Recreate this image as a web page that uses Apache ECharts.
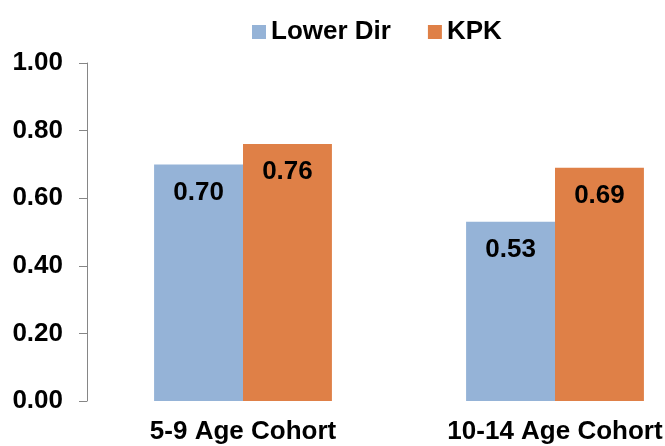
<!DOCTYPE html>
<html>
<head>
<meta charset="utf-8">
<script src="https://cdn.jsdelivr.net/npm/echarts@6/dist/echarts.min.js"></script>
<style>
html, body { margin: 0; padding: 0; background: #fff; }
#chart { width: 665px; height: 446px; }
</style>
</head>
<body>
<div id="chart"></div>
<script>
var categories = ['5-9 Age Cohort', '10-14 Age Cohort'];
var seriesNames = ['Lower Dir', 'KPK'];
var lowerDir = [0.70, 0.53];
var kpk = [0.76, 0.69];

var font = 'Arial, "Liberation Sans", sans-serif';

var chart = echarts.init(document.getElementById('chart'));

var labelStyle = {
    show: true,
    position: 'insideTop',
    distance: 15,
    color: '#000',
    fontWeight: 'bold',
    fontSize: 26,
    fontFamily: font,
    formatter: function (p) { return p.value.toFixed(2); }
};

var option = {
    animation: false,
    legend: {
        data: seriesNames,
        left: 247,
        top: 14,
        icon: 'rect',
        itemWidth: 14,
        itemHeight: 14,
        itemGap: 37,
        textStyle: { fontSize: 26, fontWeight: 'bold', color: '#000', fontFamily: font }
    },
    grid: {
        left: 87,
        top: 63,
        width: 624,
        height: 338,
        containLabel: false,
        outerBoundsMode: 'none'
    },
    xAxis: {
        type: 'category',
        data: categories,
        axisLine: { show: false },
        axisTick: { show: false },
        axisLabel: {
            margin: 18,
            color: '#000',
            fontSize: 26,
            fontWeight: 'bold',
            fontFamily: font
        }
    },
    yAxis: {
        type: 'value',
        min: 0,
        max: 1,
        interval: 0.2,
        splitLine: { show: false },
        axisLine: { show: true, lineStyle: { color: '#868686', width: 1 } },
        axisTick: { show: true, length: 8, lineStyle: { color: '#868686' } },
        axisLabel: {
            margin: 24,
            color: '#000',
            fontSize: 26,
            fontWeight: 'bold',
            fontFamily: font,
            formatter: function (v) { return v.toFixed(2); }
        }
    },
    series: [
        {
            name: seriesNames[0],
            type: 'bar',
            data: lowerDir,
            barGap: '0%',
            barCategoryGap: '43%',
            itemStyle: { color: '#95B3D7' },
            label: labelStyle
        },
        {
            name: seriesNames[1],
            type: 'bar',
            data: kpk,
            itemStyle: { color: '#DF8047' },
            label: labelStyle
        }
    ]
};

chart.setOption(option);
window.addEventListener('resize', function () {
    chart.resize();
});
</script>
</body>
</html>
